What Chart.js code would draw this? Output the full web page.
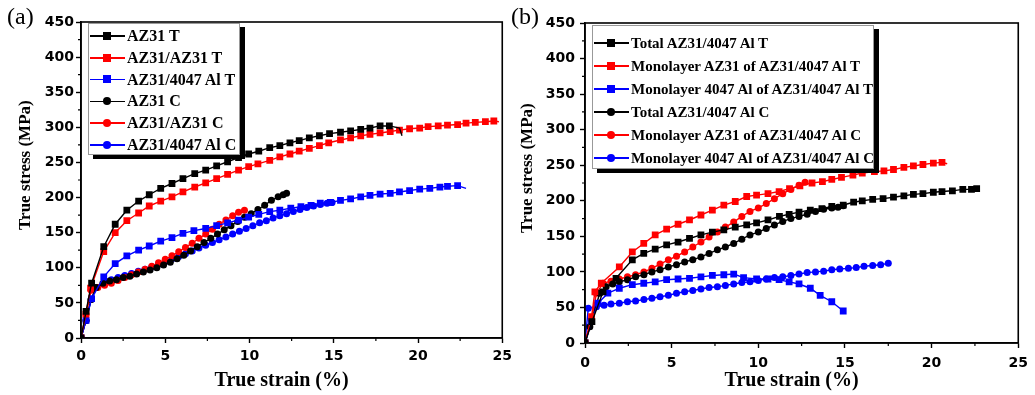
<!DOCTYPE html>
<html>
<head>
<meta charset="utf-8">
<script src="https://cdn.jsdelivr.net/npm/chart.js@4.4.1/dist/chart.umd.min.js"></script>
<style>
    body { margin: 0; background: #fff; width: 1035px; height: 395px; overflow: hidden; position: relative; font-family: "Liberation Serif", serif; }
    canvas { position: absolute; top: 0; }
    #chartA { left: 0; }
    #chartB { left: 517px; }
    .panel { position: absolute; top: 3px; font-size: 24px; color: #000; }
    .legend { position: absolute; background: #fff; border: 1px solid #999; box-shadow: 5px 4px 0 #000; font-weight: bold; color: #000; }
    .row { position: absolute; left: 1px; height: 0; display: flex; align-items: center; white-space: nowrap; }
    .sample { position: relative; width: 35px; height: 1.5px; margin-right: 2px; flex: none; }
    .mark { position: absolute; left: 13px; top: -3.5px; width: 8px; height: 8px; }
</style>
</head>
<body>
<canvas id="chartA" width="517" height="395"></canvas>
<canvas id="chartB" width="518" height="395"></canvas>
<div class="panel" style="left:7px">(a)</div>
<div class="panel" style="left:511px">(b)</div>
<div class="legend" id="legA" style="left:88px; top:23px; width:150px; height:130px; font-size:16px"></div>
<div class="legend" id="legB" style="left:592px; top:25px; width:280px; height:142px; font-size:15px; overflow:hidden"></div>

<script>
// axes
const xTicks = [0, 5, 10, 15, 20, 25];
const yTicks = [0, 50, 100, 150, 200, 250, 300, 350, 400, 450];
const xMinor = [2.5, 7.5, 12.5, 17.5, 22.5];
const yMinor = [25, 75, 125, 175, 225, 275, 325, 375, 425];

// (a) strain (%) / stress (MPa)
const az31T_x = [0, 0.3, 0.63, 1.35, 2.03, 2.72, 3.42, 4.05, 4.73, 5.4, 6.05, 6.75, 7.4, 8.05, 8.7, 9.35, 9.95, 10.55, 11.2, 11.8, 12.4, 12.95, 13.55, 14.15, 14.75, 15.4, 16.0, 16.6, 17.15, 17.75, 18.3, 18.9, 19.05];
const az31T_y = [0, 38, 78, 130, 162, 182, 195, 204, 213, 220, 227, 234, 239, 245, 251, 257, 262, 266, 271, 274, 278, 281, 285, 288, 291, 293, 295, 297, 299, 302, 302, 299, 288];

const az31az31T_x = [0, 0.29, 0.57, 1.35, 2.03, 2.72, 3.42, 4.05, 4.73, 5.4, 6.05, 6.75, 7.4, 8.05, 8.7, 9.35, 9.95, 10.5, 11.2, 11.8, 12.4, 12.95, 13.55, 14.15, 14.7, 15.4, 16.0, 16.6, 17.15, 17.75, 18.35, 18.9, 19.5, 20.1, 20.6, 21.2, 21.75, 22.35, 22.85, 23.4, 24.0, 24.5, 24.8];
const az31az31T_y = [0, 34, 71, 123, 150, 167, 178, 188, 195, 201, 208, 215, 221, 227, 233, 239, 244, 248, 253, 258, 262, 266, 270, 274, 278, 282, 285, 288, 290, 292, 294, 296, 298, 299, 301, 302, 303, 304, 306, 307, 308, 309, 308];

const az31AlT_x = [0, 0.3, 0.63, 1.35, 2.03, 2.72, 3.42, 4.05, 4.73, 5.4, 6.05, 6.7, 7.4, 8.05, 8.7, 9.35, 9.95, 10.55, 11.2, 11.8, 12.45, 13.05, 13.65, 14.2, 14.8, 15.4, 16.0, 16.6, 17.15, 17.75, 18.35, 18.9, 19.5, 20.1, 20.7, 21.3, 21.75, 22.35, 22.85];
const az31AlT_y = [0, 25, 56, 87, 106, 117, 125, 131, 138, 143, 149, 153, 156, 160, 164, 168, 172, 176, 180, 182, 185, 187, 189, 192, 193, 196, 198, 201, 203, 205, 206, 208, 210, 212, 213, 215, 216, 217, 213];

const az31C_x = [0, 0.3, 0.6, 0.9, 1.3, 1.7, 2.1, 2.5, 2.9, 3.3, 3.7, 4.1, 4.5, 4.9, 5.3, 5.7, 6.1, 6.5, 6.9, 7.3, 7.7, 8.1, 8.5, 8.9, 9.3, 9.7, 10.1, 10.5, 10.9, 11.3, 11.7, 12.0, 12.2];
const az31C_y = [0, 25, 55, 72, 78, 81, 83, 86, 88, 91, 94, 97, 100, 104, 108, 113, 118, 124, 130, 136, 142, 148, 154, 160, 166, 172, 177, 183, 189, 196, 201, 204, 206];

const az31az31C_x = [0, 0.3, 0.6, 1.0, 1.4, 1.8, 2.2, 2.6, 3.0, 3.4, 3.8, 4.2, 4.6, 5.0, 5.4, 5.8, 6.2, 6.6, 7.0, 7.4, 7.8, 8.2, 8.6, 9.0, 9.35, 9.7];
const az31az31C_y = [0, 33, 68, 72, 75, 78, 82, 86, 90, 94, 98, 102, 107, 112, 117, 123, 129, 135, 142, 148, 155, 162, 168, 174, 179, 182];

const az31AlC_x = [0, 0.3, 0.6, 0.9, 1.4, 1.8, 2.2, 2.6, 3.0, 3.4, 3.8, 4.2, 4.6, 5.0, 5.4, 5.8, 6.2, 6.6, 7.0, 7.4, 7.8, 8.2, 8.6, 9.0, 9.4, 9.8, 10.2, 10.6, 11.0, 11.4, 11.8, 12.2, 12.6, 13.0, 13.4, 13.8, 14.2, 14.6, 14.9];
const az31AlC_y = [0, 25, 55, 72, 80, 83, 86, 89, 92, 95, 98, 101, 105, 109, 113, 116, 120, 124, 128, 132, 136, 140, 144, 148, 152, 156, 160, 164, 167, 171, 174, 177, 180, 183, 186, 188, 190, 192, 193];

// (b)
const totalT_x = [0, 0.4, 1.04, 1.79, 2.73, 3.39, 4.05, 4.71, 5.37, 6.03, 6.69, 7.35, 8.01, 8.67, 9.33, 9.9, 10.56, 11.22, 11.78, 12.35, 13.0, 13.67, 14.24, 14.9, 15.5, 16.0, 16.6, 17.2, 17.8, 18.4, 18.95, 19.5, 20.1, 20.6, 21.2, 21.8, 22.3, 22.6];
const totalT_y = [0, 30, 72, 91, 117, 126, 132, 138, 142, 147, 152, 156, 159, 163, 166, 169, 173, 178, 181, 184, 187, 189, 192, 194, 198, 200, 202, 203, 205, 207, 209, 210, 212, 213, 214, 216, 216, 217];

const monoAzT_x = [0, 0.38, 0.57, 0.94, 1.98, 2.73, 3.39, 4.05, 4.71, 5.37, 6.03, 6.69, 7.35, 8.01, 8.67, 9.33, 9.9, 10.56, 11.2, 11.8, 12.4, 13.1, 13.7, 14.24, 14.8, 15.46, 16.0, 16.7, 17.25, 17.8, 18.4, 18.95, 19.5, 20.1, 20.6, 20.9];
const monoAzT_y = [0, 37, 72, 84, 107, 128, 140, 152, 160, 167, 173, 180, 187, 194, 199, 206, 208, 210, 213, 217, 221, 225, 227, 230, 233, 236, 239, 241, 242, 244, 247, 249, 251, 253, 254, 252];

const monoAlT_x = [0, 0.38, 0.75, 1.32, 1.98, 2.73, 3.39, 4.05, 4.71, 5.37, 6.03, 6.69, 7.35, 8.01, 8.58, 9.15, 9.9, 10.56, 11.2, 11.78, 12.35, 13.0, 13.57, 14.24, 14.9];
const monoAlT_y = [0, 30, 56, 70, 77, 82, 84, 86, 89, 90, 91, 93, 95, 96, 97, 92, 90, 90, 89, 86, 83, 77, 67, 58, 45];

const totalC_x = [0, 0.28, 0.85, 1.22, 1.6, 1.98, 2.45, 2.92, 3.4, 3.86, 4.33, 4.81, 5.28, 5.75, 6.22, 6.69, 7.16, 7.64, 8.1, 8.58, 9.05, 9.52, 10.0, 10.46, 10.93, 11.41, 11.88, 12.35, 12.82, 13.3, 13.77, 14.24, 14.6, 14.9];
const totalC_y = [0, 23, 70, 79, 83, 86, 89, 93, 96, 100, 103, 107, 110, 114, 117, 121, 126, 131, 135, 140, 146, 152, 156, 161, 166, 171, 175, 178, 181, 185, 188, 190, 191, 193];

const monoAzC_x = [0, 0.38, 0.66, 1.04, 1.5, 1.98, 2.45, 2.92, 3.4, 3.86, 4.33, 4.81, 5.28, 5.75, 6.22, 6.69, 7.16, 7.64, 8.1, 8.58, 9.05, 9.52, 10.0, 10.46, 10.93, 11.41, 11.88, 12.35, 12.7];
const monoAzC_y = [0, 33, 70, 84, 87, 90, 93, 96, 100, 105, 111, 117, 122, 128, 135, 142, 149, 156, 163, 170, 178, 185, 190, 196, 203, 210, 216, 222, 226];

const monoAlC_x = [0, 0.19, 0.66, 1.1, 1.5, 1.98, 2.45, 2.92, 3.4, 3.86, 4.33, 4.81, 5.28, 5.75, 6.22, 6.69, 7.16, 7.64, 8.1, 8.58, 9.05, 9.52, 10.0, 10.46, 10.93, 11.41, 11.88, 12.35, 12.82, 13.3, 13.77, 14.24, 14.7, 15.2, 15.65, 16.1, 16.6, 17.06, 17.5];
const monoAlC_y = [0, 49, 51, 53, 55, 56, 58, 59, 61, 63, 65, 67, 70, 72, 74, 76, 78, 79, 81, 83, 85, 86, 88, 90, 92, 93, 95, 97, 99, 100, 101, 103, 104, 105, 106, 108, 109, 110, 112];

const BLACK = '#000000', RED = '#ff0000', BLUE = '#0000ff';

// label, x, y, colour, marker, points at the end drawn without marker
const seriesA = [
    ['AZ31 T', az31T_x, az31T_y, BLACK, 'rect', 2],
    ['AZ31/AZ31 T', az31az31T_x, az31az31T_y, RED, 'rect', 1],
    ['AZ31/4047 Al T', az31AlT_x, az31AlT_y, BLUE, 'rect', 1],
    ['AZ31 C', az31C_x, az31C_y, BLACK, 'circle', 0],
    ['AZ31/AZ31 C', az31az31C_x, az31az31C_y, RED, 'circle', 0],
    ['AZ31/4047 Al C', az31AlC_x, az31AlC_y, BLUE, 'circle', 0],
];
const seriesB = [
    ['Total AZ31/4047 Al T', totalT_x, totalT_y, BLACK, 'rect', 0],
    ['Monolayer AZ31 of AZ31/4047 Al T', monoAzT_x, monoAzT_y, RED, 'rect', 1],
    ['Monolayer 4047 Al of AZ31/4047 Al T', monoAlT_x, monoAlT_y, BLUE, 'rect', 0],
    ['Total AZ31/4047 Al C', totalC_x, totalC_y, BLACK, 'circle', 0],
    ['Monolayer AZ31 of AZ31/4047 Al C', monoAzC_x, monoAzC_y, RED, 'circle', 0],
    ['Monolayer 4047 Al of AZ31/4047 Al C', monoAlC_x, monoAlC_y, BLUE, 'circle', 0],
];

function makeSet([label, xs, ys, color, shape, tail]) {
    const r = shape === 'rect' ? 4.8 : 3.5;
    return {
        label,
        data: xs.map((x, i) => ({ x, y: ys[i] })),
        borderColor: color,
        backgroundColor: color,
        borderWidth: 1.4,
        pointStyle: shape,
        pointRadius: xs.map((_, i) => i >= xs.length - tail ? 0 : r),
        pointBorderWidth: 0,
        tension: 0
    };
}

// minor ticks + box round the plot
const frameAndMinor = {
    id: 'frameAndMinor',
    afterDraw(chart) {
        const { ctx, chartArea: a, scales: { x, y } } = chart;
        ctx.save();
        ctx.strokeStyle = '#000';
        ctx.lineWidth = 1.2;
        ctx.beginPath();
        xMinor.forEach(v => { const p = x.getPixelForValue(v); ctx.moveTo(p, a.bottom); ctx.lineTo(p, a.bottom + 3); });
        yMinor.forEach(v => { const p = y.getPixelForValue(v); ctx.moveTo(a.left, p); ctx.lineTo(a.left - 3, p); });
        ctx.stroke();
        ctx.lineWidth = 1.6;
        ctx.strokeRect(a.left, a.top, a.right - a.left, a.bottom - a.top);
        ctx.restore();
    }
};

const tickFont = { family: 'DejaVu Sans', weight: 'bold', size: 14 };

function makeChart(id, series, o) {
    return new Chart(document.getElementById(id), {
        type: 'line',
        data: { datasets: series.map(makeSet) },
        options: {
            responsive: false,
            animation: false,
            layout: { padding: o.pad },
            plugins: { legend: { display: false }, tooltip: { enabled: false } },
            scales: {
                x: {
                    type: 'linear', min: 0, max: 25,
                    afterBuildTicks: s => { s.ticks = xTicks.map(v => ({ value: v })); },
                    ticks: { color: '#000', padding: o.xPad, maxRotation: 0, font: tickFont },
                    grid: { drawOnChartArea: false, tickLength: 5, tickColor: '#000', tickWidth: 1.4 },
                    border: { color: '#000', width: 1.6 },
                    // trailing spaces nudge the title a little left, as in the original
                    title: { display: true, text: 'True strain (%)    ', color: '#000', padding: { top: 0, bottom: 2 },
                             font: { family: 'Liberation Serif', weight: 'bold', size: 20 } },
                    afterFit: s => { s.height = o.xH; }
                },
                y: {
                    type: 'linear', min: 0, max: 450,
                    afterBuildTicks: s => { s.ticks = yTicks.map(v => ({ value: v })); },
                    ticks: { color: '#000', padding: o.yPad, font: tickFont },
                    grid: { drawOnChartArea: false, tickLength: 5, tickColor: '#000', tickWidth: 1.4 },
                    border: { color: '#000', width: 1.6 },
                    title: { display: true, text: '       True stress (MPa)', color: '#000', padding: { top: 0, bottom: 0 },
                             font: { family: 'Liberation Serif', weight: 'bold', size: 17 } },
                    afterFit: s => { s.width = o.yW; }
                }
            }
        },
        plugins: [frameAndMinor]
    });
}

makeChart('chartA', seriesA, { pad: { left: 15, top: 22, right: 10, bottom: 0 }, yW: 66, xH: 57, xPad: 5, yPad: 2 });
makeChart('chartB', seriesB, { pad: { left: 0, top: 23, right: 8, bottom: 0 }, yW: 68, xH: 52, xPad: 7, yPad: 5 });

// legend: line with marker, then label
function buildLegend(id, series, first, step) {
    const box = document.getElementById(id);
    series.forEach(([label, , , color, shape], i) => {
        const row = document.createElement('div');
        row.className = 'row';
        row.style.top = (first + i * step) + 'px';
        const line = document.createElement('span');
        line.className = 'sample';
        line.style.background = color;
        const mark = document.createElement('span');
        mark.className = 'mark';
        mark.style.background = color;
        if (shape === 'circle') mark.style.borderRadius = '50%';
        line.appendChild(mark);
        row.appendChild(line);
        row.appendChild(document.createTextNode(label));
        box.appendChild(row);
    });
}
buildLegend('legA', seriesA, 12, 21.8);
buildLegend('legB', seriesB, 17, 23);
</script>
</body>
</html>
